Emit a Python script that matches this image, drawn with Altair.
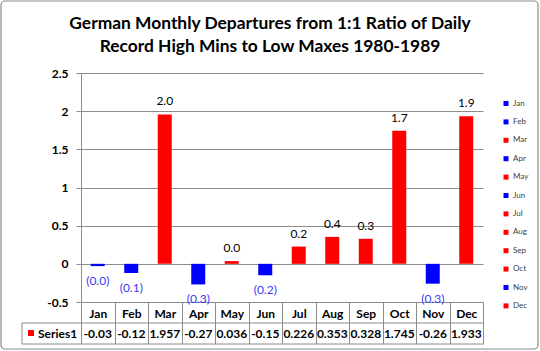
import altair as alt
import pandas as pd
from decimal import Decimal, ROUND_HALF_UP

months = ["Jan", "Feb", "Mar", "Apr", "May", "Jun", "Jul", "Aug", "Sep", "Oct", "Nov", "Dec"]
values = [-0.03, -0.12, 1.957, -0.27, 0.036, -0.15, 0.226, 0.353, 0.328, 1.745, -0.26, 1.933]
series_name = "Series1"
title_lines = ["German Monthly Departures from 1:1 Ratio of Daily",
               "Record High Mins to Low Maxes 1980-1989"]
y_ticks = [-0.5, 0, 0.5, 1, 1.5, 2, 2.5]

RED = "#FF0000"
BLUE = "#0000FF"
LBLUE = "#3A3AF5"
GRID = "#8C8C8C"
FONT = "Lato"


def one_dec(v):
    d = Decimal(str(abs(v))).quantize(Decimal("0.1"), rounding=ROUND_HALF_UP)
    return f"({d})" if v < 0 else f"{d}"


df = pd.DataFrame({
    "month": months,
    "value": values,
    "label": [one_dec(v) for v in values],
    "tbl": [str(v) for v in values],
})
colors = [RED if v >= 0 else BLUE for v in values]

W, H = 402, 229

xenc = alt.X("month:N", sort=months, title=None,
             scale=alt.Scale(paddingInner=0, paddingOuter=0),
             axis=alt.Axis(orient="bottom", labelAngle=0, labelFont=FONT, labelFontSize=12,
                           labelFontWeight="bold", labelColor="black", labelPadding=-31,
                           labelBaseline="middle", tickBand="extent", tickSize=42,
                           tickColor=GRID, domainColor=GRID, labelFlush=False,
                           labelOverlap=False))

yscale = alt.Scale(domain=[-0.5, 2.5], nice=False, zero=False)
yenc = alt.Y("value:Q", scale=yscale, title=None,
             axis=alt.Axis(values=y_ticks, tickCount=20, labelOverlap=False,
                           labelExpr="'' + datum.value",
                           labelFont=FONT, labelFontSize=12, labelFontWeight="bold",
                           labelColor="black", labelPadding=8, tickSize=5,
                           tickColor=GRID, domainColor=GRID, gridColor=GRID,
                           grid=True))

base = alt.Chart(df)

bars = base.mark_bar(size=14).encode(
    x=xenc,
    y=yenc,
    y2=alt.datum(0),
    color=alt.Color("month:N", sort=months,
                    scale=alt.Scale(domain=months, range=colors),
                    legend=alt.Legend(title=None, orient="none", legendX=421, legendY=26.5,
                                      symbolType="square", symbolSize=25,
                                      symbolStrokeWidth=0, labelFont=FONT,
                                      labelFontSize=8, labelColor="#404040",
                                      rowPadding=10.4, labelOffset=3)),
)

pos_labels = base.transform_filter("datum.value >= 0").mark_text(
    font=FONT, fontSize=12, color="black", baseline="middle", dy=-13).encode(
    x=alt.X("month:N", sort=months), y=alt.Y("value:Q"), text="label:N")

neg_labels = base.transform_filter("datum.value < 0").mark_text(
    font=FONT, fontSize=12, color=LBLUE, baseline="middle", dy=15).encode(
    x=alt.X("month:N", sort=months), y=alt.Y("value:Q"), text="label:N")

table_vals = base.mark_text(font=FONT, fontSize=12, fontWeight="bold", color="black",
                            baseline="middle").encode(
    x=alt.X("month:N", sort=months), y=alt.value(H + 32), text="tbl:N")

one = alt.Data(values=[{"name": series_name}])
hline1 = alt.Chart(one).mark_rule(color=GRID).encode(
    x=alt.value(-59), x2=alt.value(W), y=alt.value(H + 21))
hline2 = alt.Chart(one).mark_rule(color=GRID).encode(
    x=alt.value(-59), x2=alt.value(W), y=alt.value(H + 42))
vline = alt.Chart(one).mark_rule(color=GRID).encode(
    x=alt.value(-59), y=alt.value(H + 21), y2=alt.value(H + 42))
ser_sq = alt.Chart(one).mark_rect(color=RED).encode(
    x=alt.value(-53), x2=alt.value(-47), y=alt.value(H + 28), y2=alt.value(H + 34))
ser_txt = alt.Chart(one).mark_text(font=FONT, fontSize=12, fontWeight="bold",
                                   color="black", align="left",
                                   baseline="middle").encode(
    x=alt.value(-43), y=alt.value(H + 32), text="name:N")
border = alt.Chart(one).mark_rect(filled=False, stroke="#8C8C8C", strokeWidth=1.2,
                                  cornerRadius=4).encode(
    x=alt.value(-80), x2=alt.value(457), y=alt.value(-72), y2=alt.value(276))

title1 = alt.Chart(alt.Data(values=[{"t": title_lines[0]}])).mark_text(
    font=FONT, fontSize=17.4, fontWeight="bold", color="black", baseline="middle").encode(
    x=alt.value(189), y=alt.value(-49), text="t:N")
title2 = alt.Chart(alt.Data(values=[{"t": title_lines[1]}])).mark_text(
    font=FONT, fontSize=17.4, fontWeight="bold", color="black", baseline="middle").encode(
    x=alt.value(189), y=alt.value(-26.5), text="t:N")

chart = alt.layer(bars, pos_labels, neg_labels, table_vals,
                  hline1, hline2, vline, ser_sq, ser_txt, border, title1, title2).properties(
    width=W, height=H,
    autosize=alt.AutoSizeParams(type="none"),
    padding={"left": 81, "top": 73, "right": 57, "bottom": 49},
    background="white",
).configure_view(strokeWidth=0)

chart.save("out.html", embed_options={"renderer": "svg", "actions": False})
